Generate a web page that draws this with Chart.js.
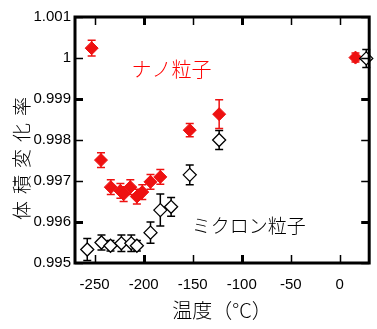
<!DOCTYPE html>
<html><head><meta charset="utf-8">
<script src="https://cdn.jsdelivr.net/npm/chart.js@4/dist/chart.umd.min.js"></script>
<style>html,body{margin:0;padding:0;background:#fff}</style>
</head><body>
<canvas id="c" width="377" height="329"></canvas>
<script>
// ---- data ----
const nanoTemp  = [-253, -243.5, -233.5, -223.7, -220.4, -213.6, -206.9, -201.4, -193, -183, -153, -123, 16];
const nanoRatio = [1.00024, 0.99751, 0.99685, 0.99676, 0.99668, 0.99685, 0.99662, 0.99673, 0.99698, 0.99710, 0.99824, 0.99863, 1.00001];
const nanoErr   = [0.00019, 0.00018, 0.00018, 0.00018, 0.00018, 0.00018, 0.00018, 0.00018, 0.00018, 0.00018, 0.00016, 0.00035, 0.00011];

const micronTemp  = [-257.5, -243, -233.8, -222.7, -212.6, -206.9, -193, -183, -172, -153, -123, 27];
const micronRatio = [0.99533, 0.99550, 0.99542, 0.99548, 0.99548, 0.99542, 0.99574, 0.99629, 0.99637, 0.99715, 0.99800, 0.99999];
const micronErr   = [0.00027, 0.00018, 0.00013, 0.00020, 0.00020, 0.00013, 0.00026, 0.00039, 0.00023, 0.00024, 0.00023, 0.00022];

const xTicks = [-250, -200, -150, -100, -50, 0];
const xTickLabels = ['-250', '-200', '-150', '-100', '-50', '0'];
const yTicks = [0.995, 0.996, 0.997, 0.998, 0.999, 1, 1.001];
const yTickLabels = ['0.995', '0.996', '0.997', '0.998', '0.999', '1', '1.001'];

const nanoLabel = 'ナノ粒子';
const nanoLabelAt = [-171.7, 0.99973];
const micronLabel = 'ミクロン粒子';
const micronLabelAt = [-92.7, 0.99590];

const xTitle = '温度（°C）';
const yTitle = '体積変化率';

const RED = '#ee1111';

const toPts = (xs, ys) => xs.map((v, i) => ({x: v, y: ys[i]}));

const decor = {
  id: 'decor',
  afterLayout(chart) {
    const ys = chart.scales.y;
    if (!ys._patched) {
      const orig = ys.drawTitle.bind(ys);
      ys.drawTitle = function () {
        const ctx = this.ctx;
        ctx.save();
        ctx.letterSpacing = '7px';
        ctx.translate(0, 15);
        orig();
        ctx.restore();
      };
      ys._patched = true;
    }
  },
  beforeDatasetsDraw(chart) {
    const {ctx, scales: {x, y}} = chart;
    const sets = [[micronTemp, micronRatio, micronErr, '#000'], [nanoTemp, nanoRatio, nanoErr, RED]];
    ctx.save();
    for (const [xs, vs, es, col] of sets) {
      ctx.strokeStyle = col;
      ctx.lineWidth = 1.5;
      xs.forEach((t, i) => {
        const px = x.getPixelForValue(t);
        const p1 = y.getPixelForValue(vs[i] + es[i]);
        const p2 = y.getPixelForValue(vs[i] - es[i]);
        ctx.beginPath();
        ctx.moveTo(px, p1); ctx.lineTo(px, p2);
        ctx.moveTo(px - 4, p1); ctx.lineTo(px + 4, p1);
        ctx.moveTo(px - 4, p2); ctx.lineTo(px + 4, p2);
        ctx.stroke();
      });
    }
    ctx.restore();
  },
  afterDraw(chart) {
    const {ctx, chartArea: a, scales: {x, y}} = chart;
    ctx.save();
    ctx.strokeStyle = '#000';
    const thickX = [-200, -100];
    const thickY = [0.999, 0.996];
    xTicks.forEach(v => {
      const px = Math.round(x.getPixelForValue(v)) + 0.5;
      ctx.lineWidth = thickX.includes(v) ? 3 : 1.5;
      ctx.beginPath();
      ctx.moveTo(px, a.bottom); ctx.lineTo(px, a.bottom - 8);
      ctx.moveTo(px, a.top); ctx.lineTo(px, a.top + 8);
      ctx.stroke();
    });
    yTicks.forEach(v => {
      const py = Math.round(y.getPixelForValue(v)) + 0.5;
      ctx.lineWidth = thickY.some(t => Math.abs(t - v) < 1e-9) ? 3 : 1.5;
      ctx.beginPath();
      ctx.moveTo(a.left, py); ctx.lineTo(a.left + 8, py);
      ctx.moveTo(a.right, py); ctx.lineTo(a.right - 8, py);
      ctx.stroke();
    });
    ctx.lineWidth = 3;
    ctx.strokeRect(a.left, a.top, a.right - a.left, a.bottom - a.top);
    ctx.textAlign = 'center';
    ctx.textBaseline = 'middle';
    ctx.font = '300 20px "Noto Sans CJK JP"';
    ctx.fillStyle = '#ff0000';
    ctx.fillText(nanoLabel, x.getPixelForValue(nanoLabelAt[0]), y.getPixelForValue(nanoLabelAt[1]));
    ctx.font = '300 19px "Noto Sans CJK JP"';
    ctx.fillStyle = '#000';
    ctx.fillText(micronLabel, x.getPixelForValue(micronLabelAt[0]), y.getPixelForValue(micronLabelAt[1]));
    ctx.restore();
  }
};

new Chart(document.getElementById('c'), {
  type: 'scatter',
  data: {
    datasets: [
      {
        label: 'ミクロン粒子',
        data: toPts(micronTemp, micronRatio),
        pointStyle: 'rectRot',
        pointRadius: 6.5,
        backgroundColor: '#fff',
        borderColor: '#000',
        borderWidth: 1.3,
        clip: false
      },
      {
        label: 'ナノ粒子',
        data: toPts(nanoTemp, nanoRatio),
        pointStyle: 'rectRot',
        pointRadius: 6.5,
        backgroundColor: RED,
        borderColor: RED,
        borderWidth: 1,
        clip: false
      }
    ]
  },
  options: {
    responsive: false,
    animation: false,
    devicePixelRatio: 1,
    layout: {padding: {top: 17, right: 6, left: 0, bottom: 0}},
    plugins: {legend: {display: false}, tooltip: {enabled: false}},
    scales: {
      x: {
        type: 'linear',
        min: -270, max: 30,
        afterBuildTicks: s => { s.ticks = xTicks.map(v => ({value: v})); },
        afterFit: s => { s.height = 66; },
        grid: {display: false, drawTicks: false},
        border: {display: false},
        ticks: {
          autoSkip: false, maxRotation: 0, padding: 13,
          color: '#000',
          font: {family: '"Liberation Sans"', size: 15},
          callback: v => xTickLabels[xTicks.indexOf(v)]
        },
        title: {
          display: true, text: xTitle, color: '#000',
          font: {family: '"Noto Sans CJK JP"', size: 20, weight: 300},
          padding: {top: 0, bottom: 7}
        }
      },
      y: {
        type: 'linear',
        min: 0.995, max: 1.001,
        afterBuildTicks: s => { s.ticks = yTicks.map(v => ({value: v})); },
        afterFit: s => { s.width = 75; },
        grid: {display: false, drawTicks: false},
        border: {display: false},
        ticks: {
          autoSkip: false, padding: 4,
          color: '#000',
          font: {family: '"Liberation Sans"', size: 15},
          callback: (v, i) => yTickLabels[i]
        },
        title: {
          display: true, text: yTitle, color: '#000',
          font: {family: '"Noto Sans CJK JP"', size: 19, weight: 300},
          padding: {top: 10, bottom: 0}
        }
      }
    }
  },
  plugins: [decor]
});
</script>
</body></html>
